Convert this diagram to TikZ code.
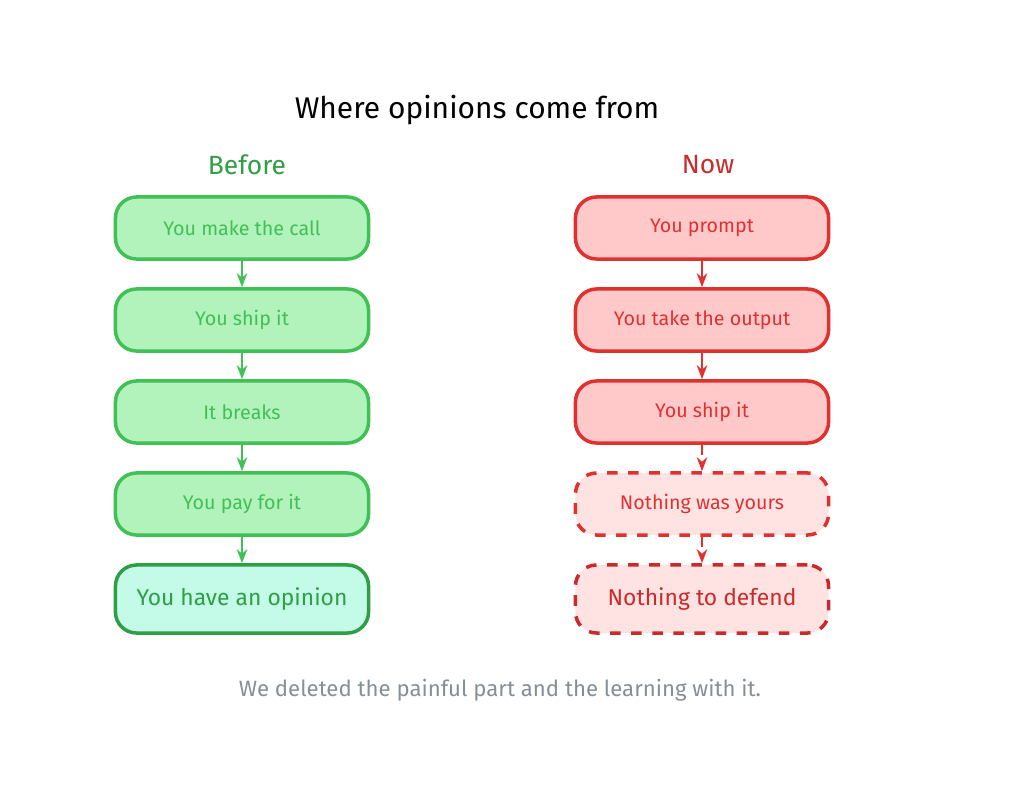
\documentclass[tikz,border=0pt]{standalone}
\usepackage{fontspec}
\setmainfont{Fira Sans}
\usepackage{xcolor}
\usetikzlibrary{arrows.meta,positioning}
\definecolor{gfill}{HTML}{B2F2BB}
\definecolor{gline}{HTML}{40C057}
\definecolor{gtext}{HTML}{40C057}
\definecolor{gdark}{HTML}{2F9E44}
\definecolor{tfill}{HTML}{C3FAE8}
\definecolor{rfill}{HTML}{FFC9C9}
\definecolor{rline}{HTML}{E03131}
\definecolor{rtext}{HTML}{E03131}
\definecolor{rlight}{HTML}{FFE3E3}
\definecolor{rdark}{HTML}{C92A2A}
\definecolor{foot}{HTML}{868E96}
\tikzset{
  stage/.style={draw, line width=1pt, rounded corners=6pt, minimum width=2.53cm,
    minimum height=0.62cm, inner sep=1pt, font=\fontsize{5.6}{7}\selectfont},
  good/.style={stage, fill=gfill, draw=gline, text=gtext},
  bad/.style={stage, fill=rfill, draw=rline, text=rtext},
  lost/.style={stage, fill=rlight, draw=rline, text=rtext, dashed},
  flow/.style={-{Stealth[length=4pt]}, line width=0.8pt},
}
\begin{document}
\begin{tikzpicture}[x=0.01cm, y=-0.01cm]
    \useasboundingbox (0,0) rectangle (1024,800);
    % Title
    \node (title) at (477,110) {\fontsize{8.5}{10}\selectfont Where opinions come from};
    % LEFT: before
    \node[text=gdark, font=\fontsize{7.5}{9}\selectfont] (before) at (247,165) {Before};
    \node[good] (b1) at (242,228) {You make the call};
    \node[good] (b2) at (242,320) {You ship it};
    \node[good] (b3) at (242,412) {It breaks};
    \node[good] (b4) at (242,504) {You pay for it};
    \node[good, fill=tfill, draw=gdark, text=gdark, minimum height=0.68cm,
      font=\fontsize{6.5}{8}\selectfont] (b5) at (242,599) {You have an opinion};
    \foreach \a/\b in {b1/b2,b2/b3,b3/b4,b4/b5}
        \draw[flow, gline] (\a) -- (\b);
    % RIGHT: now
    \node[text=rdark, font=\fontsize{7.5}{9}\selectfont] (now) at (708,165) {Now};
    \node[bad] (n1) at (702,228) {You prompt};
    \node[bad] (n2) at (702,320) {You take the output};
    \node[bad] (n3) at (702,412) {You ship it};
    \node[lost] (n4) at (702,504) {Nothing was yours};
    \node[lost, draw=rdark, text=rdark, minimum height=0.68cm,
      font=\fontsize{6.5}{8}\selectfont] (n5) at (702,599) {Nothing to defend};
    \draw[flow, rline] (n1) -- (n2);
    \draw[flow, rline] (n2) -- (n3);
    \draw[flow, rline, dashed] (n3) -- (n4);
    \draw[flow, rline, dashed] (n4) -- (n5);
    % Footer
    \node[text=foot, font=\fontsize{6.3}{8}\selectfont] (note) at (500,690)
        {We deleted the painful part and the learning with it.};
\end{tikzpicture}
\end{document}
